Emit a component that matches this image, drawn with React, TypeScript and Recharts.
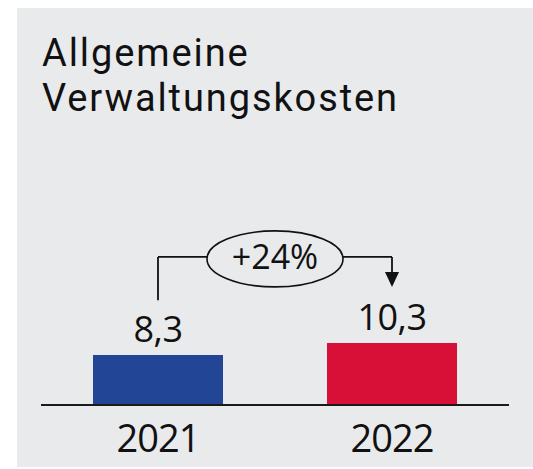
import React from 'react';
import { BarChart, Bar, XAxis, YAxis, Cell, LabelList, ReferenceLine } from 'recharts';

const years = ['2021', '2022'];
const costs = [8.3, 10.3];
const barColors = ['#224695', '#d80f37'];
const titleLines = ['Allgemeine', 'Verwaltungskosten'];

const data = years.map((year, i) => ({ year, value: costs[i] }));
const change = Math.round((costs[1] / costs[0] - 1) * 100);
const changeText = `${change >= 0 ? '+' : ''}${change}%`;

const FONT = '"Open Sans", Lato, sans-serif';
const TITLE_FONT = 'Roboto, "Open Sans", sans-serif';
const BRACKET_Y = 24.6;

const YearTick = (props: any) => {
  const { x, y, payload } = props;
  return (
    <text x={x} y={y} dy={47} textAnchor="middle" fontSize={38} letterSpacing={-1} fontFamily={FONT} fill="#111">
      {payload.value}
    </text>
  );
};

const ValueLabel = (props: any) => {
  const { x, y, width, value } = props;
  return (
    <text
      x={x + width / 2}
      y={y - 13}
      textAnchor="middle"
      fontSize={36}
      letterSpacing={-0.5}
      fontFamily={FONT}
      fill="#111"
    >
      {String(value).replace('.', ',')}
    </text>
  );
};

const ChangeBubble = (props: any) => {
  const { viewBox } = props;
  const cx = viewBox.x + viewBox.width / 2;
  const cy = viewBox.y;
  return (
    <g>
      <ellipse cx={cx} cy={cy + 2} rx={68} ry={28} fill="#e9eaec" stroke="#111" strokeWidth={1.6} />
      <text x={cx} y={cy + 12} textAnchor="middle" fontSize={34} fontFamily={FONT} fill="#111">
        {changeText}
      </text>
    </g>
  );
};

const ArrowDown = (props: any) => {
  const { x1, y1, x2, y2 } = props;
  const head = 15;
  return (
    <g>
      <line x1={x1} y1={y1} x2={x2} y2={y2 - head} stroke="#111" strokeWidth={1.8} />
      <path d={`M${x2 - 7},${y2 - head} L${x2 + 7},${y2 - head} L${x2},${y2} Z`} fill="#111" />
    </g>
  );
};

export default function App() {
  return (
    <div style={{ position: 'absolute', left: 0, top: 0, width: 533, height: 469, background: '#fff' }}>
      <div style={{ position: 'absolute', left: 17, top: 8, width: 516, height: 459, background: '#e9eaec' }} />
      <div
        style={{
          position: 'absolute',
          left: 42,
          top: 31,
          fontFamily: TITLE_FONT,
          fontSize: 38,
          letterSpacing: 1.9,
          lineHeight: '45px',
          color: '#111',
          whiteSpace: 'nowrap',
        }}
      >
        {titleLines.map((t) => (
          <div key={t}>{t}</div>
        ))}
      </div>
      <div style={{ position: 'absolute', left: 0, top: 0 }}>
        <BarChart width={533} height={469} data={data} margin={{ top: 104, right: 24, left: 41, bottom: 0 }}>
          <YAxis hide domain={[0, 50]} />
          <XAxis
            dataKey="year"
            height={64}
            tickLine={false}
            tickSize={0}
            tickMargin={0}
            axisLine={{ stroke: '#1a1a1a', strokeWidth: 2 }}
            tick={<YearTick />}
          />
          <Bar dataKey="value" barSize={130} isAnimationActive={false}>
            {data.map((d, i) => (
              <Cell key={d.year} fill={barColors[i]} />
            ))}
            <LabelList dataKey="value" content={<ValueLabel />} />
          </Bar>
          <ReferenceLine
            segment={[{ x: years[0], y: 17.4 }, { x: years[0], y: BRACKET_Y }]}
            stroke="#111"
            strokeWidth={1.8}
          />
          <ReferenceLine
            segment={[{ x: years[0], y: BRACKET_Y }, { x: years[1], y: BRACKET_Y }]}
            stroke="#111"
            strokeWidth={1.8}
            label={<ChangeBubble />}
          />
          <ReferenceLine
            segment={[{ x: years[1], y: BRACKET_Y }, { x: years[1], y: 19.6 }]}
            stroke="#111"
            strokeWidth={1.8}
            shape={<ArrowDown />}
          />
        </BarChart>
      </div>
    </div>
  );
}
